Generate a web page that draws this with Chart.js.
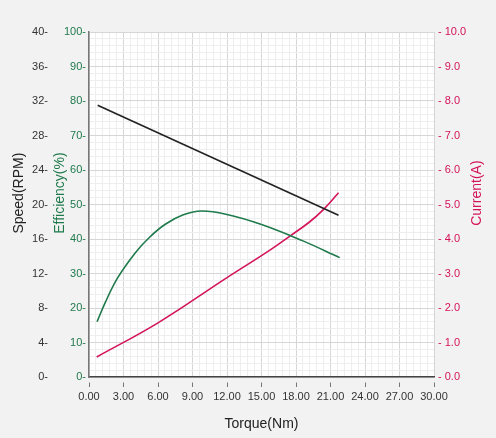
<!DOCTYPE html>
<html>
<head>
<meta charset="utf-8">
<script src="https://cdn.jsdelivr.net/npm/chart.js@4.4.1/dist/chart.umd.min.js"></script>
<style>
  html, body { margin: 0; padding: 0; background: #f2f2f2; }
  #wrap { width: 496px; height: 438px; }
</style>
</head>
<body>
<div id="wrap"><canvas id="c" width="496" height="438"></canvas></div>
<script>
// ---- data ----
const speedTorque = [0.75, 21.7];
const speedRPM    = [31.5, 18.75];

const effTorque = [0.7, 1.4, 2.5, 4.0, 5.2, 6.6, 8.2, 9.8, 12.0, 15.0, 18.5, 21.8];
const effPct    = [16.0, 21.5, 28.8, 35.9, 40.3, 44.2, 47.0, 48.1, 47.1, 44.2, 39.6, 34.6];

const curTorque = [0.67, 6.0, 12.0, 15.7, 17.5, 19.2, 20.4, 21.7];
const curAmp    = [0.58, 1.57, 2.88, 3.67, 4.09, 4.50, 4.86, 5.34];

const xTickLabelsEvery = 3;   // Nm between labelled x ticks
const speedTitle = 'Speed(RPM)';
const effTitle = 'Efficiency(%)';
const curTitle = 'Current(A)';
const xTitle = 'Torque(Nm)';

const BLACK = '#222222', GREEN = '#1f7a4c', PINK = '#d4145a', TXT = '#333333';
const FONT = "'Liberation Sans', Arial, sans-serif";

function pts(xs, ys) { return xs.map((x, i) => ({ x: x, y: ys[i] })); }
function isMult(v, m) { return Math.abs(v / m - Math.round(v / m)) < 1e-6; }

const plotBg = {
  id: 'plotBg',
  beforeDraw(chart) {
    const a = chart.chartArea, ctx = chart.ctx;
    ctx.save();
    ctx.fillStyle = '#ffffff';
    ctx.fillRect(a.left, a.top, a.right - a.left, a.bottom - a.top);
    ctx.restore();
  }
};
function vText(ctx, text, x, y, color) {
  ctx.save();
  ctx.translate(x, y);
  ctx.rotate(-Math.PI / 2);
  ctx.font = '14px ' + FONT;
  ctx.fillStyle = color;
  ctx.textAlign = 'center';
  ctx.textBaseline = 'middle';
  ctx.fillText(text, 0, 0);
  ctx.restore();
}
const yTitles = {
  id: 'yTitles',
  afterDraw(chart) {
    const ctx = chart.ctx, sc = chart.scales;
    const cy = chart.chartArea.top + (chart.chartArea.bottom - chart.chartArea.top) * 0.467;
    vText(ctx, speedTitle, sc.ySpeed.left + 17, cy, '#222');
    vText(ctx, effTitle, sc.yEff.left + 9, cy, GREEN);
    vText(ctx, curTitle, sc.yCur.right - 12, cy, PINK);
  }
};

new Chart(document.getElementById('c'), {
  type: 'line',
  data: {
    datasets: [
      { label: 'Speed', data: pts(speedTorque, speedRPM), yAxisID: 'ySpeed',
        borderColor: BLACK, borderWidth: 1.6, pointRadius: 0, tension: 0 },
      { label: 'Efficiency', data: pts(effTorque, effPct), yAxisID: 'yEff',
        borderColor: GREEN, borderWidth: 1.6, pointRadius: 0, tension: 0.4 },
      { label: 'Current', data: pts(curTorque, curAmp), yAxisID: 'yCur',
        borderColor: PINK, borderWidth: 1.6, pointRadius: 0, tension: 0.4 }
    ]
  },
  options: {
    responsive: false,
    animation: false,
    layout: { padding: { top: 32, left: 2, right: 7, bottom: 5 } },
    plugins: { legend: { display: false }, tooltip: { enabled: false } },
    scales: {
      x: {
        type: 'linear', min: 0, max: 30,
        border: { display: true, color: '#444', width: 1.5 },
        grid: {
          color: (c) => isMult(c.tick.value, xTickLabelsEvery) ? '#d6d6d6' : '#eeeeee',
          drawTicks: true, tickLength: 10,
          tickColor: (c) => isMult(c.tick.value, xTickLabelsEvery) ? '#777' : 'rgba(0,0,0,0)',
          tickBorderDash: [0, 5, 5, 100], tickWidth: 1
        },
        ticks: {
          stepSize: 0.6, maxTicksLimit: 100, autoSkip: false, maxRotation: 0,
          color: TXT, font: { size: 11, family: FONT }, padding: 3,
          callback: (v) => isMult(v, xTickLabelsEvery) ? Number(v).toFixed(2) : ''
        },
        title: { display: true, text: xTitle, color: '#222', font: { size: 14, family: FONT }, padding: { top: 10, bottom: 0 } }
      },
      yEff: {
        type: 'linear', position: 'left', min: 0, max: 100, weight: 0,
        border: { display: true, color: '#777', width: 1.5 },
        grid: {
          color: (c) => isMult(c.tick.value, 10) ? '#d6d6d6' : '#eeeeee',
          drawTicks: false
        },
        ticks: {
          stepSize: 2, maxTicksLimit: 100, autoSkip: false,
          color: GREEN, font: { size: 11, family: FONT }, padding: 3,
          callback: (v) => isMult(v, 10) ? v + '-' : ''
        },
        afterFit: (s) => { s.width = 38; }
      },
      ySpeed: {
        type: 'linear', position: 'left', min: 0, max: 40, weight: 1,
        border: { display: false },
        grid: { drawOnChartArea: false, drawTicks: false },
        ticks: {
          stepSize: 4, maxTicksLimit: 100, autoSkip: false,
          color: TXT, font: { size: 11, family: FONT }, padding: 3,
          callback: (v) => v + '-'
        },
        afterFit: (s) => { s.width = 49; }
      },
      yCur: {
        type: 'linear', position: 'right', min: 0, max: 10,
        border: { display: false },
        grid: { drawOnChartArea: false, drawTicks: false },
        ticks: {
          stepSize: 1, maxTicksLimit: 100, autoSkip: false,
          color: PINK, font: { size: 11, family: FONT }, padding: 4,
          callback: (v) => '- ' + Number(v).toFixed(1)
        },
        afterFit: (s) => { s.width = 55; }
      }
    }
  },
  plugins: [plotBg, yTitles]
});
</script>
</body>
</html>
